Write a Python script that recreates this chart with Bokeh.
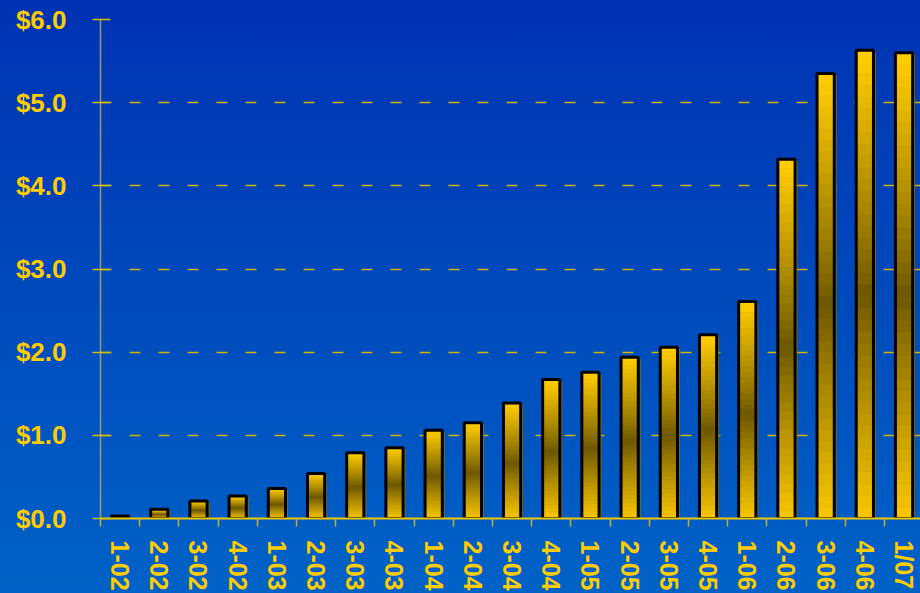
import numpy as np
from bokeh.plotting import figure
from bokeh.models import Range1d, FixedTicker, PrintfTickFormatter, ColumnDataSource, GlobalInlineStyleSheet
from bokeh.embed import file_html
from bokeh.resources import INLINE

# ---- data ----
quarters = ["1-02", "2-02", "3-02", "4-02", "1-03", "2-03", "3-03", "4-03",
            "1-04", "2-04", "3-04", "4-04", "1-05", "2-05", "3-05", "4-05",
            "1-06", "2-06", "3-06", "4-06", "1/07"]
revenue = [0.03, 0.11, 0.21, 0.27, 0.36, 0.54, 0.79, 0.85,
           1.06, 1.15, 1.39, 1.67, 1.76, 1.94, 2.06, 2.21,
           2.61, 4.32, 5.35, 5.63, 5.60]
y_ticks = [0, 1, 2, 3, 4, 5, 6]

GOLD = np.array([255, 204, 0])
BROWN = np.array([108, 86, 0])

def hexcol(c):
    c = np.clip(np.round(c), 0, 255).astype(int)
    return "#%02x%02x%02x" % tuple(c)

xs = np.arange(len(quarters))
half_w = 0.22

# gradient slices per bar
N = 40
sl_left, sl_right, sl_top, sl_bottom, sl_col = [], [], [], [], []
for x, v in zip(xs, revenue):
    edges = np.linspace(0, v, N + 1)
    for k in range(N):
        mid = (edges[k] + edges[k + 1]) / 2
        f = 1 - mid / v  # 0 at top, 1 at bottom
        t = min(abs(f - 0.52) / 0.5, 1.0) ** 0.9
        sl_left.append(x - half_w)
        sl_right.append(x + half_w)
        sl_bottom.append(edges[k])
        sl_top.append(edges[k + 1])
        sl_col.append(hexcol(BROWN + (GOLD - BROWN) * t))

p = figure(width=920, height=593,
           x_range=Range1d(-0.5, 20.42), y_range=Range1d(0, 6),
           output_backend="svg", toolbar_location=None,
           min_border_left=100, min_border_right=0, min_border_top=19, min_border_bottom=0)
p.background_fill_alpha = 0
p.border_fill_alpha = 0
p.outline_line_color = None
p.stylesheets = [GlobalInlineStyleSheet(css="html{background:linear-gradient(#0032b2,#0062c6);min-height:100%;} body{background:transparent;}")]

# shadow
p.quad(left=xs - half_w + 0.06, right=xs + half_w + 0.06, top=np.array(revenue) - 0.02, bottom=0,
       fill_color="#8c7000", line_color=None)
# gradient fill
p.quad(source=ColumnDataSource(dict(left=sl_left, right=sl_right, top=sl_top, bottom=sl_bottom, c=sl_col)),
       left="left", right="right", top="top", bottom="bottom", fill_color="c", line_color="c", line_width=0.5)
# outline
p.quad(left=xs - half_w, right=xs + half_w, top=revenue, bottom=0,
       fill_color=None, line_color="black", line_width=3)

# y axis
ya = p.yaxis[0]
ya.ticker = FixedTicker(ticks=y_ticks)
ya.formatter = PrintfTickFormatter(format="$%.1f")
ya.major_label_text_font = "Liberation Sans"
ya.major_label_text_font_style = "bold"
ya.major_label_text_font_size = "26px"
ya.major_label_text_color = "#ffcc00"
ya.axis_line_color = "#9a9a72"
ya.axis_line_width = 1.5
ya.major_tick_line_color = "#d8bc10"
ya.major_tick_line_width = 1.5
ya.major_tick_in = 10
ya.major_tick_out = 8
ya.minor_tick_line_color = None
ya.major_label_standoff = 26

# x axis
xa = p.xaxis[0]
xa.ticker = FixedTicker(ticks=list(xs), minor_ticks=[i - 0.5 for i in range(len(quarters) + 1)])
xa.major_label_overrides = {int(i): q for i, q in zip(xs, quarters)}
xa.major_label_orientation = -np.pi / 2
xa.major_label_text_font = "Liberation Sans"
xa.major_label_text_font_style = "bold"
xa.major_label_text_font_size = "25px"
xa.major_label_text_color = "#ffcc00"
xa.major_tick_line_color = None
xa.major_tick_in = 0
xa.major_tick_out = 0
xa.minor_tick_in = 0
xa.minor_tick_out = 8
xa.minor_tick_line_color = "#c8b030"
xa.minor_tick_line_width = 1.5
xa.axis_line_color = "#f0c800"
xa.axis_line_width = 2
xa.major_label_standoff = 14

p.xgrid.visible = False
p.ygrid.grid_line_color = "#d4b400"
p.ygrid.grid_line_dash = "11 18"
p.ygrid.grid_line_width = 1.5

open("out.html", "w").write(file_html(p, INLINE))
